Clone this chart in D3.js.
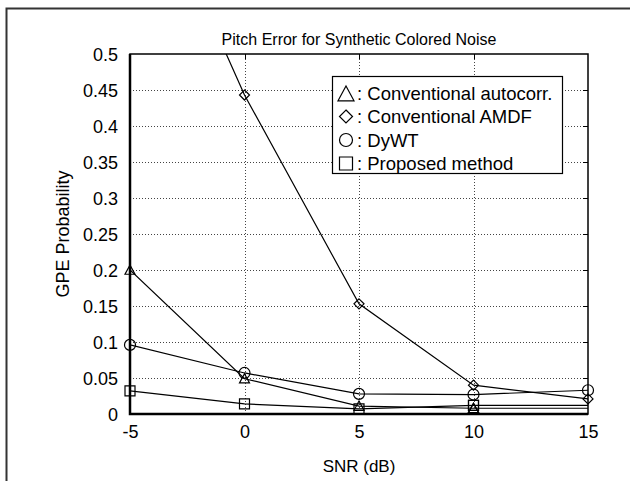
<!DOCTYPE html>
<html>
<head>
<meta charset="utf-8">
<script src="https://cdn.jsdelivr.net/npm/d3@7"></script>
<style>
body { margin: 0; background: #fff; }
text { font-family: "Liberation Sans", Arial, sans-serif; fill: #000; }
</style>
</head>
<body>
<svg id="chart" width="630" height="481"></svg>
<script>
var width = 630;
var height = 481;

// data
var snr = [-5, 0, 5, 10, 15];
var autocorr = [0.200, 0.049, 0.011, 0.008, 0.008];
var amdf = [0.80, 0.443, 0.153, 0.040, 0.021];
var dywt = [0.096, 0.057, 0.028, 0.027, 0.033];
var proposed = [0.032, 0.014, 0.007, 0.012, 0.012];

var xTicks = [-5, 0, 5, 10, 15];
var yTicks = [0, 0.05, 0.1, 0.15, 0.2, 0.25, 0.3, 0.35, 0.4, 0.45, 0.5];

var series = [
  {name: ": Conventional autocorr.", shape: "triangle", values: autocorr},
  {name: ": Conventional AMDF", shape: "diamond", values: amdf},
  {name: ": DyWT", shape: "circle", values: dywt},
  {name: ": Proposed method", shape: "square", values: proposed}
]

var margin = {left: 130, top: 54, right: 42, bottom: 67};

var svg = d3.select("#chart");

// outer frame (only left and top show in the crop)
svg.append("path")
  .attr("d", "M6.5," + height + "V8.5H" + width)
  .attr("fill", "none")
  .attr("stroke", "#333")
  .attr("stroke-width", 2);

var x = d3.scaleLinear().domain([-5, 15]).range([margin.left, width - margin.right]);
var y = d3.scaleLinear().domain([0, 0.5]).range([height - margin.bottom, margin.top]);

var plot = svg.append("g");

plot.append("defs").append("clipPath").attr("id", "clip")
  .append("rect")
  .attr("x", x(-5)).attr("y", y(0.5))
  .attr("width", x(15) - x(-5)).attr("height", y(0) - y(0.5));

// dotted grid
plot.selectAll(".hgrid")
  .data(yTicks.slice(1, -1))
  .enter().append("line")
  .attr("x1", x(-5)).attr("x2", x(15))
  .attr("y1", function(d) { return Math.round(y(d)) + 0.5; })
  .attr("y2", function(d) { return Math.round(y(d)) + 0.5; })
  .attr("stroke", "#444")
  .attr("stroke-width", 1)
  .attr("stroke-dasharray", "1,2");

plot.selectAll(".vgrid")
  .data(xTicks.slice(1, -1))
  .enter().append("line")
  .attr("y1", y(0)).attr("y2", y(0.5))
  .attr("x1", function(d) { return Math.round(x(d)) + 0.5; })
  .attr("x2", function(d) { return Math.round(x(d)) + 0.5; })
  .attr("stroke", "#444")
  .attr("stroke-width", 1)
  .attr("stroke-dasharray", "1,2");

// axes
var xAxis = d3.axisBottom(x).tickValues(xTicks).tickSize(0).tickPadding(11)
  .tickFormat(function(d) { return String(d); });
var yAxis = d3.axisLeft(y).tickValues(yTicks).tickSize(0).tickPadding(12)
  .tickFormat(function(d) { return d === 0 ? "0" : String(+d.toFixed(2)); });

svg.append("g")
  .attr("transform", "translate(0," + y(0) + ")")
  .call(xAxis)
  .call(function(g) { g.select(".domain").remove(); })
  .selectAll("text").attr("font-size", 18).attr("font-family", "Liberation Sans, Arial, sans-serif");

svg.append("g")
  .attr("transform", "translate(" + x(-5) + ",0)")
  .call(yAxis)
  .call(function(g) { g.select(".domain").remove(); })
  .selectAll("text").attr("font-size", 18).attr("dy", "0.36em").attr("font-family", "Liberation Sans, Arial, sans-serif");

// inner tick marks on top and right
svg.selectAll(".rtick")
  .data(yTicks.slice(1, -1))
  .enter().append("line")
  .attr("x1", x(15) - 5).attr("x2", x(15))
  .attr("y1", function(d) { return Math.round(y(d)) + 0.5; })
  .attr("y2", function(d) { return Math.round(y(d)) + 0.5; })
  .attr("stroke", "#000");
svg.selectAll(".ttick")
  .data(xTicks.slice(1, -1))
  .enter().append("line")
  .attr("y1", y(0.5)).attr("y2", y(0.5) + 5)
  .attr("x1", function(d) { return Math.round(x(d)) + 0.5; })
  .attr("x2", function(d) { return Math.round(x(d)) + 0.5; })
  .attr("stroke", "#000");

// marker shapes, r = half size in px
var symbolFor = function(shape, r) {
  if (shape == "triangle") {
    return "M0," + (-r) + "L" + r + "," + (r * 0.85) + "L" + (-r) + "," + (r * 0.85) + "Z";
  }
  if (shape == "diamond") {
    return "M0," + (-r) + "L" + r + ",0L0," + r + "L" + (-r) + ",0Z";
  }
  if (shape == "circle") {
    return d3.symbol().type(d3.symbolCircle).size(Math.PI * r * r)();
  }
  return "M" + (-r) + "," + (-r) + "H" + r + "V" + r + "H" + (-r) + "Z";
}

var line = d3.line()
  .x(function(d, i) { return x(snr[i]); })
  .y(function(d) { return y(d); });

var lines = svg.append("g").attr("clip-path", "url(#clip)");
var marks = svg.append("g");

series.forEach(function(s) {
  lines.append("path")
    .datum(s.values)
    .attr("d", line)
    .attr("fill", "none")
    .attr("stroke", "#000")
    .attr("stroke-width", 1.2);

  marks.selectAll(".m-" + s.shape)
    .data(s.values.filter(function(d) { return d <= 0.5; }))
    .enter().append("path")
    .attr("d", symbolFor(s.shape, s.shape == "circle" ? 5.5 : 5))
    .attr("transform", function(d) {
      var i = s.values.indexOf(d);
      return "translate(" + x(snr[i]) + "," + y(d) + ")";
    })
    .attr("fill", "none")
    .attr("stroke", "#000")
    .attr("stroke-width", 1.2);
});

// plot frame: left/bottom heavier
svg.append("rect")
  .attr("x", x(-5)).attr("y", y(0.5))
  .attr("width", x(15) - x(-5)).attr("height", y(0) - y(0.5))
  .attr("fill", "none")
  .attr("stroke", "#000")
  .attr("stroke-width", 1.5);
svg.append("path")
  .attr("d", "M" + x(-5) + "," + y(0.5) + "V" + y(0) + "H" + x(15))
  .attr("fill", "none")
  .attr("stroke", "#000")
  .attr("stroke-width", 2.5);

// legend
var legend = svg.append("g").attr("transform", "translate(332,76)");
legend.append("rect")
  .attr("x", 0.5).attr("y", 0.5)
  .attr("width", 230).attr("height", 97)
  .attr("fill", "#fff")
  .attr("stroke", "#000")
  .attr("stroke-width", 1.2);

series.forEach(function(s, i) {
  var ly = 17 + i * 23.5;
  legend.append("path")
    .attr("d", symbolFor(s.shape, s.shape == "triangle" ? 8 : 6.5))
    .attr("transform", "translate(14," + (ly + (s.shape == "triangle" ? 1 : 0)) + ")")
    .attr("fill", "none")
    .attr("stroke", "#000")
    .attr("stroke-width", 1.2);
  legend.append("text")
    .attr("x", 25)
    .attr("y", ly + 6.5)
    .attr("font-size", 18.5)
    .text(s.name);
});

// title and labels
svg.append("text")
  .attr("x", (x(-5) + x(15)) / 2)
  .attr("y", 45)
  .attr("text-anchor", "middle")
  .attr("font-size", 16)
  .text("Pitch Error for Synthetic Colored Noise");

svg.append("text")
  .attr("x", (x(-5) + x(15)) / 2)
  .attr("y", 472)
  .attr("text-anchor", "middle")
  .attr("font-size", 17)
  .text("SNR (dB)");

svg.append("text")
  .attr("transform", "translate(69," + y(0.25) + ") rotate(-90)")
  .attr("text-anchor", "middle")
  .attr("font-size", 18)
  .text("GPE Probability");
</script>
</body>
</html>
